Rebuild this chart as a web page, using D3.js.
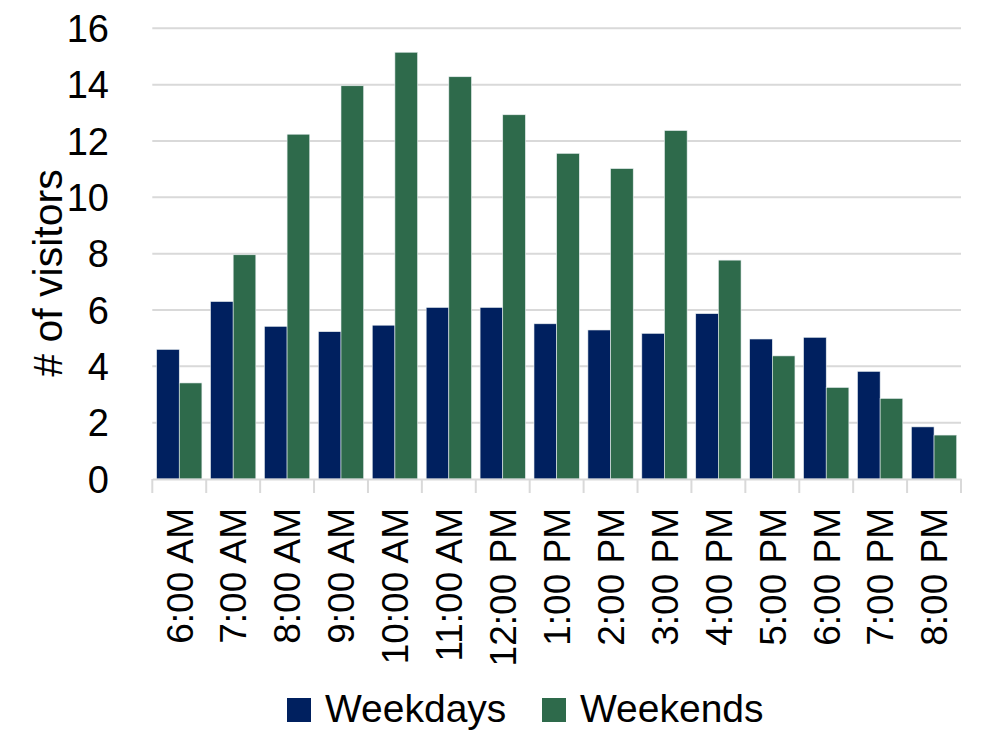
<!DOCTYPE html>
<html><head><meta charset="utf-8">
<script src="https://cdn.jsdelivr.net/npm/d3@7"></script>
<style>body{margin:0;background:#fff}svg{display:block}text{font-family:"Liberation Sans",Arial,sans-serif;fill:#000}</style>
</head><body><svg id="c" width="1000" height="750"></svg>
<script>
const categories = ["6:00 AM","7:00 AM","8:00 AM","9:00 AM","10:00 AM","11:00 AM","12:00 PM","1:00 PM","2:00 PM","3:00 PM","4:00 PM","5:00 PM","6:00 PM","7:00 PM","8:00 PM"];
const weekdays = [4.6,6.3,5.42,5.23,5.46,6.09,6.09,5.51,5.29,5.17,5.87,4.97,5.03,3.82,1.85];
const weekends = [3.41,7.96,12.24,13.96,15.15,14.28,12.93,11.56,11.02,12.37,7.77,4.37,3.25,2.86,1.56];
const seriesNames = ["Weekdays","Weekends"];
const colors = ["#00205f","#2e6a4b"];
const yTicks = [0,2,4,6,8,10,12,14,16];

const svg = d3.select("#c");
const L = 152.3, R = 961, T = 28.3, B = 479;
const x = d3.scaleBand().domain(categories).range([L, R]).padding(0);
const sub = d3.scaleBand().domain(seriesNames).range([0, x.bandwidth()]).paddingOuter(0.19).paddingInner(0);
const y = d3.scaleLinear().domain([0,16]).range([B, T]);

// gridlines
svg.append("g").selectAll("line").data(yTicks.filter(d=>d>0)).join("line")
  .attr("x1", L).attr("x2", R).attr("y1", d=>y(d)).attr("y2", d=>y(d))
  .attr("stroke", "#d9d9d9").attr("stroke-width", 2);

// y tick labels
svg.append("g").selectAll("text").data(yTicks).join("text")
  .attr("x", 109).attr("y", d=>y(d)).attr("dy","0.36em")
  .attr("text-anchor","end").attr("font-size", 38).text(d=>d);

// bars
const data = [weekdays, weekends];
data.forEach((vals, si) => {
  svg.append("g").selectAll("rect").data(vals).join("rect")
    .attr("x", (d,i)=>x(categories[i]) + sub(seriesNames[si]))
    .attr("width", sub.bandwidth())
    .attr("y", d=>y(d)).attr("height", d=>B - y(d))
    .attr("fill", colors[si]).attr("stroke", "#e8eef0").attr("stroke-width", 0.6);
});

// x axis
const xa = svg.append("g").attr("transform", `translate(0,${B})`)
  .call(d3.axisBottom(x).tickSize(0).tickFormat(""));
xa.select(".domain").attr("stroke","#d9d9d9").attr("stroke-width",2);
const bounds = categories.map(c=>x(c)).concat([R]);
svg.append("g").selectAll("line").data(bounds).join("line")
  .attr("x1", d=>d).attr("x2", d=>d).attr("y1", B).attr("y2", B+14)
  .attr("stroke","#d9d9d9").attr("stroke-width",2);

svg.append("g").selectAll("text").data(categories).join("text")
  .attr("transform", d=>`translate(${x(d)+x.bandwidth()/2},508) rotate(-90)`)
  .attr("dy","0.36em").attr("text-anchor","end").attr("font-size", 37).text(d=>d);

// y title
svg.append("text").attr("transform","translate(47,273) rotate(-90)")
  .attr("dy","0.36em").attr("text-anchor","middle").attr("font-size", 41).text("# of visitors");

// legend
const leg = svg.append("g");
const legX = [287, 542];
seriesNames.forEach((n,i)=>{
  leg.append("rect").attr("x", legX[i]).attr("y", 698).attr("width", 24).attr("height", 24).attr("fill", colors[i]);
  leg.append("text").attr("x", legX[i]+38).attr("y", 722).attr("font-size", 39).text(n);
});
</script></body></html>
